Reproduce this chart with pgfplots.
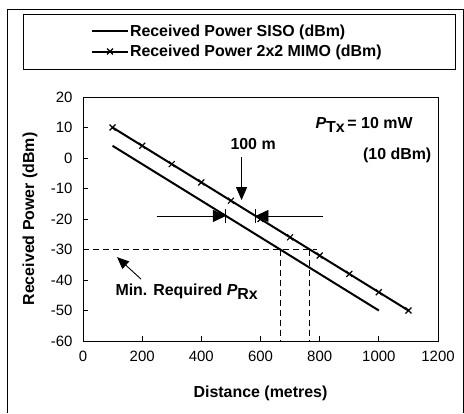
\documentclass[border=0pt]{standalone}
\usepackage{fontspec}
\setmainfont{Liberation Sans}
\usepackage{pgfplots}
\pgfplotsset{compat=1.18}
\usetikzlibrary{arrows.meta}

\begin{document}
\begin{tikzpicture}[x=1bp,y=1bp]
\begin{axis}[
    at={(83bp,72bp)}, anchor=south west,
    scale only axis, width=355bp, height=244bp,
    xmin=0, xmax=1200, ymin=-60, ymax=20,
    xtick={0,200,400,600,800,1000,1200},
    xticklabels={0,200,400,600,800,1000,1200},
    ytick={-60,-50,-40,-30,-20,-10,0,10,20},
    yticklabels={-60,-50,-40,-30,-20,-10,0,10,20},
    tick pos=left, tick align=inside, major tick length=5bp,
    tick style={black, line width=0.8bp},
    axis line style={line width=0.9bp},
    ticklabel style={font=\fontsize{15}{18}\selectfont},
    xticklabel style={yshift=-7bp},
    yticklabel style={xshift=-7bp},
    xlabel={\textbf{Distance (metres)}},
    ylabel={\textbf{Received Power (dBm)}},
    label style={font=\fontsize{16}{19}\selectfont},
    xlabel style={at={(axis description cs:0.5,-0.213)}, anchor=center},
    ylabel style={at={(axis description cs:-0.149,0.5)}, anchor=center},
    clip=false,
    legend style={at={(axis description cs:0.022,1.2275)}, anchor=west,
        draw=none, fill=none, font=\bfseries\fontsize{16}{19}\selectfont,
        row sep=5bp, inner sep=0pt, nodes={inner sep=1bp}},
    legend cell align=left,
    legend image code/.code={\draw[mark repeat=2,mark phase=2,#1]
        plot coordinates {(0bp,0bp) (18bp,0bp) (36bp,0bp)};},
]
% SISO
\addplot[black, line width=2bp, mark=none] coordinates {
    (100,4)(200,-2)(300,-8)(400,-14)(500,-20)
    (600,-26)(700,-32)(800,-38)(900,-44)(1000,-50)
};
% 2x2 MIMO
\addplot[black, line width=2bp, mark=x, mark size=4.2bp,
    mark options={line width=1.2bp}] coordinates {
    (100,10)(200,4)(300,-2)(400,-8)(500,-14)(600,-20)
    (700,-26)(800,-32)(900,-38)(1000,-44)(1100,-50)
};
\legend{Received Power SISO (dBm), Received Power 2x2 MIMO (dBm)}

% min. required level
\draw[black, line width=0.9bp, dash pattern=on 6bp off 4bp]
    (axis cs:0,-30) -- (axis cs:790,-30);
\draw[black, line width=0.9bp, dash pattern=on 6bp off 4bp]
    (axis cs:667,-30) -- (axis cs:667,-60);
\draw[black, line width=0.9bp, dash pattern=on 6bp off 4bp]
    (axis cs:767,-30) -- (axis cs:767,-60);

% 100 m gap
\draw[black, line width=0.9bp, -{Triangle[length=13bp,width=11bp]}]
    (axis cs:536,0.3) -- (axis cs:536,-13.8);
\node[font=\bfseries\fontsize{16}{19}\selectfont] at (axis cs:575,4.5) {100 m};
\draw[black, line width=0.9bp, -{Triangle[length=13bp,width=12bp]}]
    (axis cs:250,-19) -- (axis cs:483,-19);
\draw[black, line width=0.9bp, -{Triangle[length=13bp,width=12bp]}]
    (axis cs:810,-19) -- (axis cs:583,-19);
\draw[black, line width=0.9bp] (axis cs:483,-16.8) -- (axis cs:483,-21.2);
\draw[black, line width=0.9bp] (axis cs:583,-16.8) -- (axis cs:583,-21.2);

% labels
\node[font=\bfseries\fontsize{16}{19}\selectfont] at (axis cs:950,10.8)
    {\textit{P}\raisebox{-0.5ex}{Tx}\,= 10 mW};
\node[font=\bfseries\fontsize{16}{19}\selectfont] at (axis cs:1062,1) {(10 dBm)};
\node[font=\bfseries\fontsize{16}{19}\selectfont, anchor=west] at (axis cs:98,-43.8)
    {Min. Required \textit{P}\raisebox{-0.5ex}{Rx}};
\draw[black, line width=0.9bp, -{Triangle[length=12bp,width=10bp]}]
    (axis cs:196,-39.7) -- (axis cs:115,-32.5);
\end{axis}

% legend frame and chart border
\draw[black, line width=1bp] (23,344) rectangle (455,398);
\draw[black, line width=1bp] (7,0) -- (7,403) -- (463,403) -- (463,0);

\pgfresetboundingbox
\path[use as bounding box] (0,0) rectangle (464,413);
\end{tikzpicture}
\end{document}
